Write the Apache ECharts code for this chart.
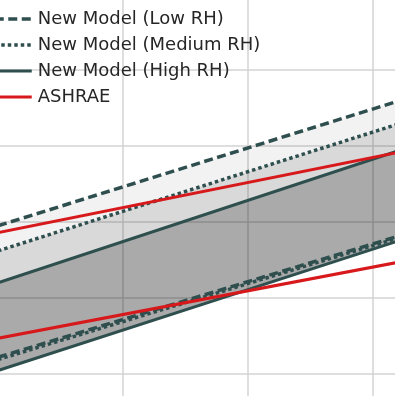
<!DOCTYPE html>
<html>
<head>
<meta charset="utf-8">
<script src="https://cdn.jsdelivr.net/npm/echarts@6/dist/echarts.min.js"></script>
<style>html,body{margin:0;padding:0;background:#fff}#c{width:395px;height:396px}</style>
</head>
<body>
<div id="c"></div>
<script>
// Data (line end points over the visible x range)
var xEnds = [15, 35];
var lowRHUpper = [19.5, 40.0];
var lowRHLower = [2.2, 22.1];
var medRHUpper = [16.2, 37.05];
var medRHLower = [1.9, 21.9];
var highRHUpper = [12.0, 33.7];
var highRHLower = [0.45, 21.75];
var ashraeUpper = [18.6, 31.8];
var ashraeLower = [4.7, 17.2];
var legendNames = ['New Model (Low RH)', 'New Model (Medium RH)', 'New Model (High RH)', 'ASHRAE'];

function pts(ys) { return xEnds.map(function (x, i) { return [x, ys[i]]; }); }

var DARK = '#2f4f4f', RED = '#d7191c';

function lineSeries(name, ys, color, type, width, z) {
  return {
    name: name, type: 'line', data: pts(ys), symbol: 'none', silent: true,
    lineStyle: { color: color, width: width, type: type, cap: 'butt' },
    itemStyle: { color: color }, z: z
  };
}
// band polygon between two lines, drawn through the axis scales
function bandSeries(lowerYs, upperYs, fill) {
  return {
    type: 'custom', silent: true, z: 1,
    data: [[xEnds[0], lowerYs[0], upperYs[0], xEnds[1], lowerYs[1], upperYs[1]]],
    encode: { x: [0, 3], y: [1, 2, 4, 5] },
    renderItem: function (params, api) {
      var a = api.coord([api.value(0), api.value(1)]);
      var b = api.coord([api.value(3), api.value(4)]);
      var c = api.coord([api.value(3), api.value(5)]);
      var d = api.coord([api.value(0), api.value(2)]);
      return { type: 'polygon', shape: { points: [a, b, c, d] }, style: { fill: fill } };
    }
  };
}

var option = {
  animation: false,
  backgroundColor: '#ffffff',
  grid: { left: -2, top: -6, width: 500, height: 456, containLabel: false, outerBoundsMode: 'none' },
  xAxis: {
    type: 'value', min: 15, max: 35, interval: 5,
    axisLine: { show: false }, axisTick: { show: false }, axisLabel: { show: false },
    splitLine: { show: true, lineStyle: { color: '#d3d3d3', width: 1.5 } }
  },
  yAxis: {
    type: 'value', min: -10, max: 50, interval: 10,
    axisLine: { show: false }, axisTick: { show: false }, axisLabel: { show: false },
    splitLine: { show: true, lineStyle: { color: '#d3d3d3', width: 1.5 } }
  },
  legend: {
    data: legendNames, orient: 'vertical', left: -12, top: 4,
    itemWidth: 37, itemHeight: 14, itemGap: 6,
    itemStyle: { opacity: 0, color: 'rgba(0,0,0,0)', borderWidth: 0 },
    lineStyle: { width: 'inherit', type: 'inherit', color: 'inherit' },
    textStyle: { fontFamily: 'DejaVu Sans', fontSize: 18, color: '#262626', lineHeight: 20, padding: [0, 0, 0, 1] },
    selectedMode: false
  },
  series: [
    bandSeries(highRHLower, highRHUpper, 'rgba(0,0,0,0.333)'),
    bandSeries(highRHUpper, medRHUpper, 'rgba(0,0,0,0.15)'),
    bandSeries(medRHUpper, lowRHUpper, 'rgba(0,0,0,0.05)'),
    lineSeries('New Model (High RH)', highRHLower, DARK, 'solid', 3, 5),
    lineSeries('New Model (Medium RH)', medRHLower, DARK, [3.5, 3], 3.5, 6),
    lineSeries('New Model (Low RH)', lowRHLower, DARK, [9, 4.5], 3.5, 7),
    lineSeries('New Model (Low RH)', lowRHUpper, DARK, [9, 4.5], 3.5, 7),
    lineSeries('New Model (Medium RH)', medRHUpper, DARK, [3.5, 3], 3.5, 6),
    lineSeries('New Model (High RH)', highRHUpper, DARK, 'solid', 3, 5),
    lineSeries('ASHRAE', ashraeUpper, RED, 'solid', 3, 8),
    lineSeries('ASHRAE', ashraeLower, RED, 'solid', 3, 8)
  ]
};
var chart = echarts.init(document.getElementById('c'), null, { renderer: 'canvas' });
chart.setOption(option);
</script>
</body>
</html>
